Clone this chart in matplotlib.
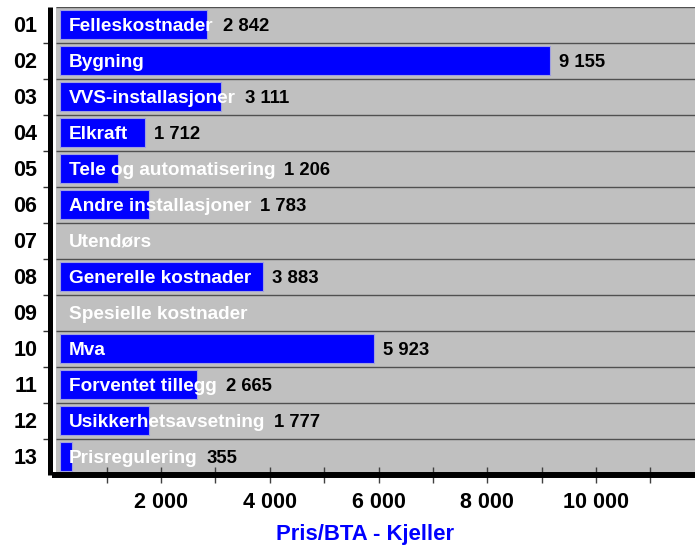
import matplotlib
matplotlib.use('Agg')
import matplotlib.pyplot as plt

codes = ['01', '02', '03', '04', '05', '06', '07', '08', '09', '10', '11', '12', '13']
categories = ['Felleskostnader', 'Bygning', 'VVS-installasjoner', 'Elkraft',
              'Tele og automatisering', 'Andre installasjoner', 'Utendørs',
              'Generelle kostnader', 'Spesielle kostnader', 'Mva',
              'Forventet tillegg', 'Usikkerhetsavsetning', 'Prisregulering']
values = [2842, 9155, 3111, 1712, 1206, 1783, None, 3883, None, 5923, 2665, 1777, 355]
major_ticks = [2000, 4000, 6000, 8000, 10000]
minor_ticks = [1000, 3000, 5000, 7000, 9000, 11000]
x_max = 11820
x_title = 'Pris/BTA - Kjeller'

plt.rcParams['font.family'] = ['Liberation Sans', 'DejaVu Sans']
plt.rcParams['font.weight'] = 'bold'

W, H = 695, 546
fig = plt.figure(figsize=(W / 100, H / 100), dpi=100)
left_px, right_px, top_px, bottom_px = 52.3, 695, 6.5, 474.5
ax = fig.add_axes([left_px / W, (H - bottom_px) / H,
                   (right_px - left_px) / W, (bottom_px - top_px) / H])
n = len(categories)
ax.set_xlim(0, x_max)
ax.set_ylim(n - 0.5, -0.5)
ppu = (right_px - left_px) / x_max
gray_x0 = 3.7 / ppu
bar_x0 = 7.7 / ppu

ax.axvspan(gray_x0, x_max, color='#c0c0c0', lw=0, zorder=0)
ax.hlines([b - 0.5 for b in range(n + 1)], gray_x0, x_max, colors='#505050', lw=1, zorder=1)

ys = [i for i, v in enumerate(values) if v is not None]
vs = [v for v in values if v is not None]
ax.barh(ys, [v - bar_x0 for v in vs], left=bar_x0, height=0.83, color='#0000ff',
        edgecolor='#a0a0e0', lw=0.8, zorder=2)

# axes ticks and spines
ax.set_yticks(range(n))
ax.set_yticklabels(codes)
ax.set_yticks([i + 0.5 for i in range(n - 1)], minor=True)
ax.tick_params(axis='y', which='major', length=0, pad=9.5, labelsize=15.5)
ax.tick_params(axis='y', which='minor', length=5, width=1, color='#303030', direction='out')

ax.set_xticks(major_ticks)
ax.set_xticklabels([f"{t:,}".replace(',', ' ') for t in major_ticks])
ax.set_xticks(minor_ticks, minor=True)
ax.tick_params(axis='x', which='both', direction='inout', length=11.5, width=1,
               color='#404040', pad=7, labelsize=15.5)

for s in ['top', 'right']:
    ax.spines[s].set_visible(False)
ax.spines['left'].set_linewidth(3.6)
ax.spines['left'].set_position(('outward', 1.3))
ax.spines['bottom'].set_linewidth(4.3)
for s in ['left', 'bottom']:
    ax.spines[s].set_color('black')
    ax.spines[s].set_zorder(4)
    ax.spines[s].set_capstyle('butt')

label_texts = []
for i, cat in enumerate(categories):
    t = ax.annotate(cat, xy=(0, i), xytext=(12.0, -4.4), textcoords='offset points',
                    ha='left', va='baseline', color='white', fontsize=13.7,
                    fontweight='bold', zorder=3)
    label_texts.append(t)

fig.canvas.draw()
r = fig.canvas.get_renderer()
inv = ax.transData.inverted()
for i, v in enumerate(values):
    if v is None:
        continue
    t_end = label_texts[i].get_window_extent(r).x1
    b_end = ax.transData.transform((v, i))[0]
    xpx = max(t_end, b_end) + 9
    xd = inv.transform((xpx, 0))[0]
    ax.annotate(f"{v:,}".replace(',', ' '), xy=(xd, i), xytext=(0, -4.4),
                textcoords='offset points', ha='left', va='baseline',
                color='black', fontsize=13.3, fontweight='bold', zorder=3)

fig.text(365.5 / W, (H - 540) / H, x_title, color='#0000ff', fontsize=15.9,
         fontweight='bold', ha='center', va='baseline')

fig.savefig('out.png', dpi=100)
